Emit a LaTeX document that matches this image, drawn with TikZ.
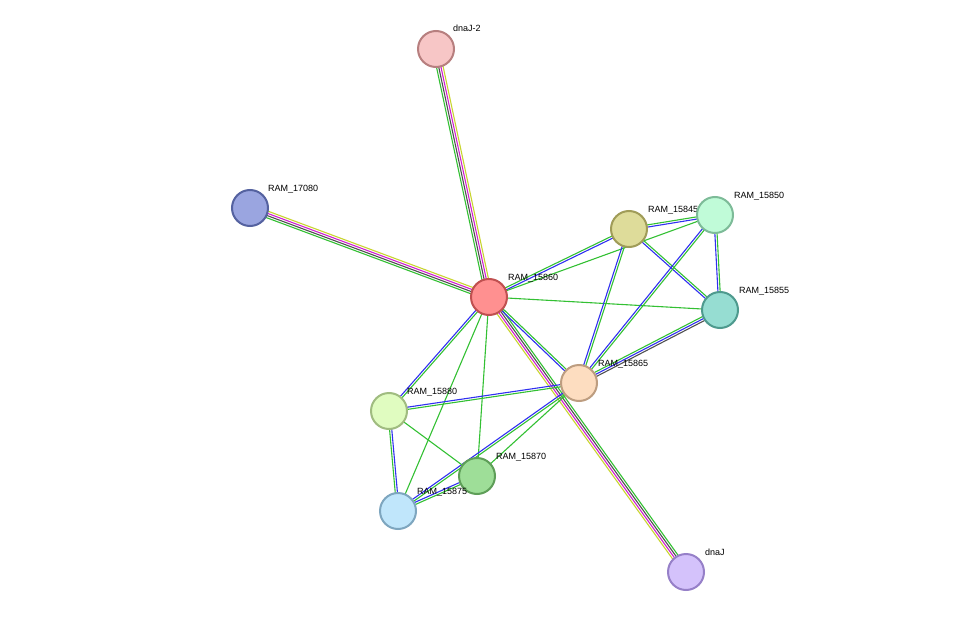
\documentclass[tikz,border=0pt]{standalone}
\usepackage{fontspec}
\setmainfont{Liberation Sans}
\usetikzlibrary{calc}
\definecolor{eg}{HTML}{33C033}
\definecolor{eb}{HTML}{3030F0}
\definecolor{em}{HTML}{D020D0}
\definecolor{ey}{HTML}{C8D430}
\definecolor{ek}{HTML}{505050}
\tikzset{x=1pt,y=-1pt,
 prot/.style={circle,minimum size=36pt,inner sep=0pt,line width=2pt},
 lab/.style={font=\fontsize{9}{10}\selectfont,anchor=base west,inner sep=0pt},
 edge/.style={line width=1.1pt}}
\newcommand{\edg}[4]{% a b offset color
 \draw[edge,#4] ($(#1)!#3!90:(#2)$) -- ($(#2)!#3!-90:(#1)$);}
\newcommand{\two}[4]{\edg{#1}{#2}{-1.1pt}{#3}\edg{#1}{#2}{1.1pt}{#4}}
\newcommand{\four}[2]{\edg{#1}{#2}{-3.3pt}{ey}\edg{#1}{#2}{-1.1pt}{em}\edg{#1}{#2}{1.1pt}{ek}\edg{#1}{#2}{3.3pt}{eg}}
\begin{document}
\begin{tikzpicture}
\useasboundingbox (0,0) rectangle (975,618);
\coordinate (dj2) at (436,49);
\coordinate (s17) at (250,208);
\coordinate (s60) at (489,297);
\coordinate (s45) at (629,229);
\coordinate (s50) at (715,215);
\coordinate (s55) at (720,310);
\coordinate (s65) at (579,383);
\coordinate (s80) at (389,411);
\coordinate (s70) at (477,476);
\coordinate (s75) at (398,511);
\coordinate (dj) at (686,572);
% edges
\four{s60}{dj2}\four{s60}{s17}\four{s60}{dj}
\two{s60}{s45}{eb}{eg}
\edg{s60}{s50}{0pt}{eg}
\edg{s60}{s55}{0pt}{eg}
\two{s60}{s65}{eb}{eg}
\two{s60}{s80}{eb}{eg}
\edg{s60}{s70}{0pt}{eg}
\edg{s60}{s75}{0pt}{eg}
\two{s45}{s50}{eb}{eg}
\two{s45}{s55}{eb}{eg}
\two{s45}{s65}{eb}{eg}
\two{s50}{s55}{eb}{eg}
\two{s50}{s65}{eb}{eg}
\edg{s65}{s55}{-2.2pt}{ek}\edg{s65}{s55}{0pt}{eb}\edg{s65}{s55}{2.2pt}{eg}
\two{s65}{s80}{eb}{eg}
\edg{s65}{s70}{0pt}{eg}
\two{s65}{s75}{eb}{eg}
\edg{s80}{s70}{0pt}{eg}
\two{s80}{s75}{eg}{eb}
\two{s70}{s75}{eb}{eg}
% nodes
\node[prot,fill={rgb,255:red,247;green,198;blue,198},draw={rgb,255:red,183;green,127;blue,127}] (n1) at (dj2) {};
\node[lab] at (453,32) {dnaJ-2};
\node[prot,fill={rgb,255:red,154;green,165;blue,224},draw={rgb,255:red,85;green,98;blue,160}] (n2) at (s17) {};
\node[lab] at (268,191) {RAM\_17080};
\node[prot,fill={rgb,255:red,255;green,144;blue,144},draw={rgb,255:red,192;green,80;blue,80}] (n3) at (s60) {};
\node[lab] at (508,280) {RAM\_15860};
\node[prot,fill={rgb,255:red,222;green,220;blue,154},draw={rgb,255:red,160;green,156;blue,88}] (n4) at (s45) {};
\node[lab] at (648,212) {RAM\_15845};
\node[prot,fill={rgb,255:red,192;green,251;blue,216},draw={rgb,255:red,125;green,187;blue,152}] (n5) at (s50) {};
\node[lab] at (734,198) {RAM\_15850};
\node[prot,fill={rgb,255:red,150;green,221;blue,210},draw={rgb,255:red,78;green,154;blue,142}] (n6) at (s55) {};
\node[lab] at (739,293) {RAM\_15855};
\node[prot,fill={rgb,255:red,253;green,221;blue,192},draw={rgb,255:red,189;green,157;blue,128}] (n7) at (s65) {};
\node[lab] at (598,366) {RAM\_15865};
\node[prot,fill={rgb,255:red,224;green,252;blue,192},draw={rgb,255:red,160;green,188;blue,128}] (n8) at (s80) {};
\node[lab] at (407,394) {RAM\_15880};
\node[prot,fill={rgb,255:red,158;green,222;blue,152},draw={rgb,255:red,94;green,158;blue,88}] (n9) at (s70) {};
\node[lab] at (496,459) {RAM\_15870};
\node[prot,fill={rgb,255:red,192;green,230;blue,251},draw={rgb,255:red,126;green,166;blue,191}] (n10) at (s75) {};
\node[lab] at (417,494) {RAM\_15875};
\node[prot,fill={rgb,255:red,212;green,194;blue,251},draw={rgb,255:red,150;green,128;blue,200}] (n11) at (dj) {};
\node[lab] at (705,555) {dnaJ};
\end{tikzpicture}
\end{document}
